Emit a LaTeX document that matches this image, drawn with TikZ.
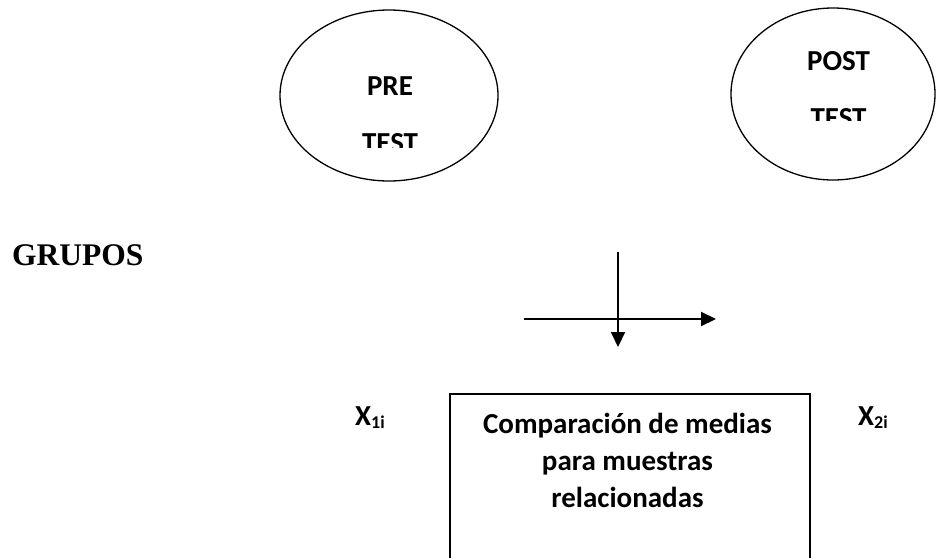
\documentclass[tikz,border=0pt]{standalone}
\usepackage{fontspec}
\setmainfont{Carlito}
\newfontfamily\timesfont{Liberation Serif}
\usetikzlibrary{arrows.meta}
\tikzset{
  x=1pt, y=-1pt,
  ell/.style={draw, line width=1.3pt},
  lbl/.style={inner sep=0pt, anchor=base, font=\fontsize{29}{29}\selectfont\bfseries},
  arr/.style={line width=2pt, -{Triangle[length=15pt,width=14pt]}},
  boxst/.style={draw, line width=1.5pt, rectangle, inner sep=0pt}
}
\begin{document}
\begin{tikzpicture}
\useasboundingbox (0,0) rectangle (936,557);
\clip (0,0) rectangle (936,557);
% ellipses
\draw[ell] (389,95.5) ellipse [x radius=109, y radius=85.5];
\draw[ell] (833,94) ellipse [x radius=102, y radius=86];
\node[lbl] (pre) at (390,95) {PRE};
\begin{scope}
  \clip (300,100) rectangle (480,147);
  \node[lbl] (pretest) at (390,152) {TEST};
\end{scope}
\node[lbl] (post) at (838.5,70) {POST};
\begin{scope}
  \clip (750,80) rectangle (920,120);
  \node[lbl] (posttest) at (838.5,127) {TEST};
\end{scope}
% GRUPOS
\node[inner sep=0pt, anchor=base west, font=\timesfont\fontsize{31.5}{31.5}\selectfont\bfseries] (grupos) at (12,265) {GRUPOS};
% arrows
\coordinate (vtop) at (618,252);
\coordinate (vend) at (618,347);
\coordinate (hstart) at (524,319);
\coordinate (hend) at (716,319);
\draw[arr] (vtop) -- (vend);
\draw[arr] (hstart) -- (hend);
% box
\node[boxst, minimum width=360pt, minimum height=206pt] (box) at (630,497) {};
\node[lbl] (l1) at (627.5,433) {Comparación de medias};
\node[lbl] (l2) at (627.5,470) {para muestras};
\node[lbl] (l3) at (627.5,507) {relacionadas};
% X labels
\node[lbl, anchor=base west] (x1) at (355,425) {X\raisebox{-3pt}{\fontsize{18}{18}\selectfont 1i}};
\node[lbl, anchor=base west] (x2) at (858,425) {X\raisebox{-3pt}{\fontsize{18}{18}\selectfont 2i}};
\end{tikzpicture}
\end{document}
